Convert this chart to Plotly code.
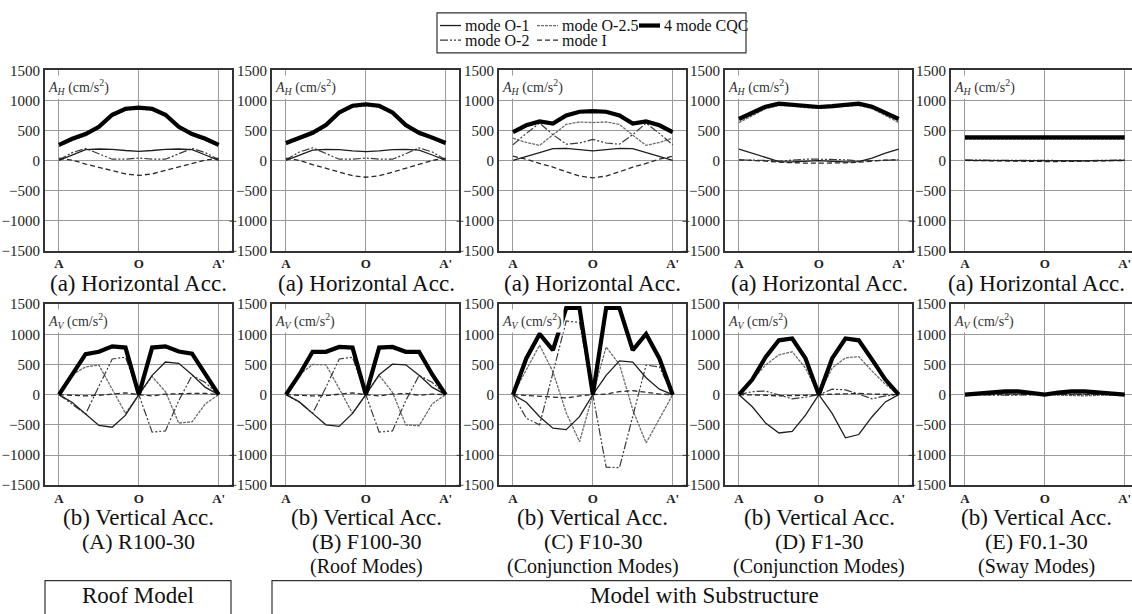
import plotly.graph_objects as go

W, H = 1132, 614
FONT = "Liberation Serif, Times New Roman, serif"

# ---------------- data ----------------
NODES = [0, 1, 2, 3, 4, 5, 6, 7, 8, 9, 10, 11, 12]
X_TICK_POS = [0, 6, 12]
X_TICK_TEXT = ["A", "O", "A'"]
Y_TICKS = [-1500, -1000, -500, 0, 500, 1000, 1500]
MODES = ["mode O-1", "mode O-2.5", "4 mode CQC", "mode O-2", "mode I"]
MODELS = ["(A) R100-30", "(B) F100-30", "(C) F10-30", "(D) F1-30", "(E) F0.1-30"]
MODEL_NOTES = ["", "(Roof Modes)", "(Conjunction Modes)", "(Conjunction Modes)", "(Sway Modes)"]
ROW_CAPTIONS = ["(a) Horizontal Acc.", "(b) Vertical Acc."]
ROW_UNITS = ["<i>A</i><sub><i>H</i></sub> (cm/s<sup>2</sup>)",
             "<i>A</i><sub><i>V</i></sub> (cm/s<sup>2</sup>)"]
GROUP_LABELS = ["Roof Model", "Model with Substructure"]

# (A) R100-30 horizontal
A_H_O1 = [0, 90, 180, 190, 185, 165, 150, 165, 185, 190, 180, 90, 0]
A_H_O25 = [235, 335, 415, 535, 735, 835, 855, 835, 735, 535, 415, 335, 235]
A_H_CQC = [260, 360, 440, 560, 760, 860, 880, 860, 760, 560, 440, 360, 260]
A_H_O2 = [10, 130, 200, 110, 20, 20, 40, 20, 20, 110, 200, 130, 10]
A_H_I = [40, 5, -60, -110, -170, -225, -250, -225, -170, -110, -60, 5, 40]
# (B) F100-30 horizontal
B_H_O1 = [0, 90, 170, 185, 180, 160, 145, 160, 180, 185, 170, 90, 0]
B_H_O25 = [265, 355, 435, 565, 775, 885, 905, 885, 775, 565, 435, 355, 265]
B_H_CQC = [290, 380, 460, 590, 800, 910, 935, 910, 800, 590, 460, 380, 290]
B_H_O2 = [10, 140, 210, 110, 20, 20, 40, 20, 20, 110, 210, 140, 10]
B_H_I = [40, 0, -70, -130, -195, -255, -280, -255, -195, -130, -70, 0, 40]
# (C) F10-30 horizontal
C_H_O1 = [0, 60, 130, 195, 200, 180, 160, 180, 200, 195, 130, 60, 0]
C_H_O25 = [370, 300, 250, 420, 600, 640, 630, 640, 600, 420, 250, 300, 370]
C_H_CQC = [470, 585, 650, 615, 750, 810, 820, 810, 750, 615, 650, 585, 470]
C_H_O2 = [260, 450, 620, 430, 270, 290, 350, 290, 270, 430, 620, 450, 260]
C_H_I = [70, 20, -50, -110, -190, -260, -290, -260, -190, -110, -50, 20, 70]
# (D) F1-30 horizontal
D_H_O1 = [190, 120, 40, -20, -25, -15, -5, -15, -25, -20, 40, 120, 190]
D_H_O25 = [630, 750, 860, 915, 905, 880, 865, 880, 905, 915, 860, 750, 630]
D_H_CQC = [690, 795, 895, 945, 930, 905, 890, 905, 930, 945, 895, 795, 690]
D_H_O2 = [10, 10, 0, -10, 10, 20, 20, 20, 10, -10, 0, 10, 10]
D_H_I = [10, 5, -10, -30, -40, -45, -45, -45, -40, -30, -10, 5, 10]
# (E) F0.1-30 horizontal
E_H_O1 = [0, -2, -4, -6, -8, -8, -8, -8, -8, -6, -4, -2, 0]
E_H_O25 = [355, 355, 355, 356, 356, 357, 357, 357, 356, 356, 355, 355, 355]
E_H_CQC = [385, 385, 386, 386, 387, 387, 387, 387, 387, 386, 386, 385, 385]
E_H_O2 = [5, 3, 0, -3, -5, -6, -6, -6, -5, -3, 0, 3, 5]
E_H_I = [0, -5, -10, -14, -17, -18, -18, -18, -17, -14, -10, -5, 0]

# (A) R100-30 vertical
A_V_O1 = [0, -130, -320, -510, -540, -340, 0, 320, 540, 520, 330, 120, 0]
A_V_O25 = [0, 330, 460, 490, 90, -310, 0, 300, 50, -470, -450, -150, 0]
A_V_CQC = [0, 350, 670, 710, 800, 780, 0, 780, 800, 715, 680, 340, 0]
A_V_O2 = [0, -160, -320, 140, 590, 620, 0, -620, -600, -100, 320, 200, 0]
A_V_I = [0, -10, -20, -10, 10, 30, 0, -20, 10, 20, 20, 20, 0]
# (B) F100-30 vertical
B_V_O1 = [0, -120, -310, -500, -525, -310, 0, 330, 505, 495, 320, 120, 0]
B_V_O25 = [0, 330, 500, 495, 100, -310, 0, 320, 40, -500, -515, -150, 0]
B_V_CQC = [0, 330, 710, 710, 790, 780, 0, 780, 790, 710, 710, 330, 0]
B_V_O2 = [0, -120, -310, 120, 590, 620, 0, -620, -600, -100, 320, 200, 0]
B_V_I = [0, -10, -20, -15, 10, 30, 0, -20, 10, 20, -10, 10, 0]
# (C) F10-30 vertical
C_V_O1 = [0, -125, -365, -555, -580, -365, 0, 320, 560, 540, 280, 90, 0]
C_V_O25 = [0, 420, 820, 380, -300, -780, 0, 790, 500, -250, -800, -400, 0]
C_V_CQC = [0, 600, 1005, 737, 1435, 1435, 0, 1435, 1435, 737, 1005, 600, 0]
C_V_O2 = [0, -390, -500, 360, 1220, 1195, 0, -1200, -1210, -360, 490, 460, 0]
C_V_I = [0, -10, -20, -40, -55, -20, 0, 10, 50, 65, 40, 10, 0]
# (D) F1-30 vertical
D_V_O1 = [0, -200, -470, -635, -610, -340, 0, -310, -715, -660, -365, -120, 0]
D_V_O25 = [0, 240, 490, 660, 710, 440, 0, 440, 610, 630, 390, 170, 0]
D_V_CQC = [0, 250, 620, 900, 930, 600, 0, 600, 930, 900, 580, 250, 0]
D_V_O2 = [0, 50, 60, 0, -70, -40, 0, 90, 80, 10, -70, -20, 0]
D_V_I = [0, 0, -10, -20, -20, -10, 0, 10, 20, 20, 10, 0, 0]
# (E) F0.1-30 vertical
E_V_O1 = [0, 10, 25, 35, 35, 20, 0, 20, 35, 35, 25, 10, 0]
E_V_O25 = [0, 5, 10, 15, 10, 5, 0, -10, -20, -20, -10, -5, 0]
E_V_CQC = [0, 20, 40, 55, 55, 35, 0, 35, 55, 55, 40, 20, 0]
E_V_O2 = [0, -5, -10, -10, -5, 0, 0, 5, 10, 10, 5, 0, 0]
E_V_I = [0, 0, 5, 5, 0, 0, 0, 0, -5, -5, 0, 0, 0]

H_SERIES = [
    [A_H_O1, A_H_O25, A_H_CQC, A_H_O2, A_H_I],
    [B_H_O1, B_H_O25, B_H_CQC, B_H_O2, B_H_I],
    [C_H_O1, C_H_O25, C_H_CQC, C_H_O2, C_H_I],
    [D_H_O1, D_H_O25, D_H_CQC, D_H_O2, D_H_I],
    [E_H_O1, E_H_O25, E_H_CQC, E_H_O2, E_H_I],
]
V_SERIES = [
    [A_V_O1, A_V_O25, A_V_CQC, A_V_O2, A_V_I],
    [B_V_O1, B_V_O25, B_V_CQC, B_V_O2, B_V_I],
    [C_V_O1, C_V_O25, C_V_CQC, C_V_O2, C_V_I],
    [D_V_O1, D_V_O25, D_V_CQC, D_V_O2, D_V_I],
    [E_V_O1, E_V_O25, E_V_CQC, E_V_O2, E_V_I],
]

# ---------------- styles / geometry ----------------
STYLE = {
    "mode O-1": dict(color="#1e1e1e", width=1.3, dash="solid"),
    "mode O-2.5": dict(color="#6e6e6e", width=1.3, dash="3px,1px"),
    "4 mode CQC": dict(color="#000000", width=4.2, dash="solid"),
    "mode O-2": dict(color="#3a3a3a", width=1.2, dash="8px,2px,2px,2px,2px,2px"),
    "mode I": dict(color="#2a2a2a", width=1.3, dash="5px,3px"),
}
DRAW_ORDER = [1, 3, 4, 0, 2]

PANEL_LEFT = [45, 272, 499, 725, 951]
CAPTION_CX = [138, 366, 593, 819, 1036]
PANEL_W = 187
ROW_TOP = [64, 304]
ROW_BOT = [249, 490]
XR_LEFT = -1.05
NODE_PER_PX = 14.05 / PANEL_W


def px(x):
    return x / W


def py(y):
    return 1 - y / H


fig = go.Figure()
layout = dict(
    width=W, height=H, margin=dict(l=0, r=0, t=0, b=0),
    paper_bgcolor="white", plot_bgcolor="white", showlegend=False,
    font=dict(family=FONT, color="#222", size=14),
)
annotations = []
shapes = []

idx = 0
for row, series_set in enumerate([H_SERIES, V_SERIES]):
    for col in range(5):
        idx += 1
        xa = "x" if idx == 1 else f"x{idx}"
        ya = "y" if idx == 1 else f"y{idx}"
        left = PANEL_LEFT[col]
        right = min(left + PANEL_W, W)
        xr_right = XR_LEFT + (right - left) * NODE_PER_PX
        for k in DRAW_ORDER:
            name = MODES[k]
            fig.add_trace(go.Scatter(
                x=NODES, y=series_set[col][k], mode="lines", name=name,
                line=STYLE[name], xaxis=xa, yaxis=ya, hoverinfo="skip",
            ))
        axkey = "" if idx == 1 else str(idx)
        layout["xaxis" + axkey] = dict(
            domain=[px(left), px(right)], range=[XR_LEFT, xr_right],
            anchor=ya, tickvals=X_TICK_POS,
            ticktext=[f"<b>{t}</b>" for t in X_TICK_TEXT],
            showgrid=True, gridcolor="#9a9a9a", gridwidth=1, zeroline=False,
            showline=True, linecolor="#333", linewidth=2, mirror=True,
            ticks="", tickfont=dict(family=FONT, size=13, color="#222"),
            fixedrange=True,
        )
        layout["yaxis" + axkey] = dict(
            domain=[py(ROW_BOT[row]), py(ROW_TOP[row])], range=[-1500, 1500],
            anchor=xa, tickvals=Y_TICKS,
            showgrid=True, gridcolor="#9a9a9a", gridwidth=1, zeroline=False,
            showline=True, linecolor="#333", linewidth=2,
            mirror=(col != 4), ticks="",
            tickfont=dict(family=FONT, size=15, color="#222"),
            fixedrange=True,
        )
        annotations.append(dict(
            xref=f"{xa} domain", yref=f"{ya} domain", x=0.005, y=1,
            yshift=-5, xanchor="left", yanchor="top", showarrow=False,
            text=ROW_UNITS[row], bgcolor="white", borderpad=1,
            font=dict(family=FONT, size=14, color="#333"),
        ))
        cx = px(CAPTION_CX[col])
        annotations.append(dict(
            xref="paper", yref="paper", x=cx, y=py(283 if row == 0 else 523),
            xanchor="center", yanchor="middle", showarrow=False,
            text=ROW_CAPTIONS[row], font=dict(family=FONT, size=23, color="#111"),
        ))
        if row == 1:
            annotations.append(dict(
                xref="paper", yref="paper", x=cx, y=py(548),
                xanchor="center", yanchor="middle", showarrow=False,
                text=MODELS[col], font=dict(family=FONT, size=22, color="#111"),
            ))
            if MODEL_NOTES[col]:
                annotations.append(dict(
                    xref="paper", yref="paper", x=cx, y=py(573),
                    xanchor="center", yanchor="middle", showarrow=False,
                    text=MODEL_NOTES[col], font=dict(family=FONT, size=20, color="#111"),
                ))

# group boxes at the bottom
for (x0, x1, tx), label in zip([(45, 231, 138), (272, 1140, 704)], GROUP_LABELS):
    shapes.append(dict(type="rect", xref="paper", yref="paper",
                       x0=px(x0), x1=px(x1), y0=py(625), y1=py(588),
                       line=dict(color="#333", width=1.2)))
    annotations.append(dict(
        xref="paper", yref="paper", x=px(tx), y=py(603),
        xanchor="center", yanchor="middle", showarrow=False,
        text=label, font=dict(family=FONT, size=23, color="#111")))

# legend box
shapes.append(dict(type="rect", xref="paper", yref="paper",
                   x0=px(437), x1=px(746), y0=py(46), y1=py(5),
                   line=dict(color="#333", width=1.2)))
LEG_POS = {
    "mode O-1": (440, 18), "mode O-2.5": (537, 18), "4 mode CQC": (639, 18),
    "mode O-2": (440, 33), "mode I": (537, 33),
}
for name in MODES:
    lx, ly = LEG_POS[name]
    st = STYLE[name]
    shapes.append(dict(type="line", xref="paper", yref="paper",
                       x0=px(lx), x1=px(lx + 21), y0=py(ly), y1=py(ly),
                       line=dict(color=st["color"], width=st["width"], dash=st["dash"])))
    annotations.append(dict(
        xref="paper", yref="paper", x=px(lx + 23), y=py(ly),
        xanchor="left", yanchor="middle", showarrow=False, text=name,
        font=dict(family=FONT, size=16, color="#111")))

layout["annotations"] = annotations
layout["shapes"] = shapes
fig.update_layout(**layout)
fig.write_html(
    "out.html",
    config={"displayModeBar": False},
    post_script="document.body.style.margin='0px';document.body.style.padding='0px';"
                "document.body.style.overflow='hidden';",
)
